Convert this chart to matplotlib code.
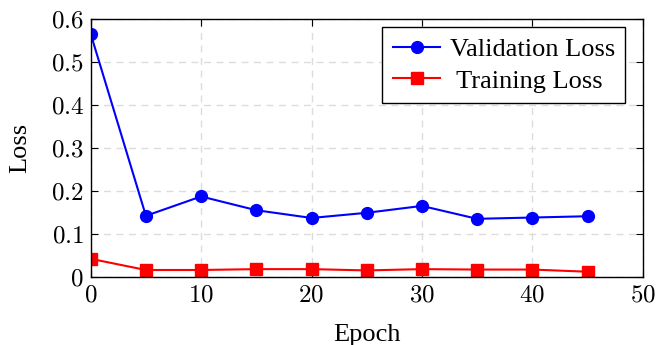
import matplotlib.pyplot as plt

# data
epochs = [0, 5, 10, 15, 20, 25, 30, 35, 40, 45]
val_loss = [0.566, 0.143, 0.188, 0.156, 0.138, 0.150, 0.166, 0.136, 0.139, 0.142]
train_loss = [0.043, 0.017, 0.017, 0.019, 0.019, 0.016, 0.019, 0.018, 0.018, 0.013]
xticks = [0, 10, 20, 30, 40, 50]
yticks = [0, 0.1, 0.2, 0.3, 0.4, 0.5, 0.6]

plt.rcParams['font.family'] = ['Liberation Serif', 'DejaVu Serif']
plt.rcParams['mathtext.fontset'] = 'cm'

fig = plt.figure(figsize=(6.57, 3.45), dpi=100)
ax = fig.add_axes([90.7 / 657, 1 - 277.3 / 345, (642.7 - 90.7) / 657, (277.3 - 19.3) / 345])

ax.plot(epochs, val_loss, color='blue', marker='o', markersize=8.5, linewidth=1.5,
        label='Validation Loss')
ax.plot(epochs, train_loss, color='red', marker='s', markersize=8.5, linewidth=1.5,
        label=' Training Loss')

ax.set_xlim(0, 50)
ax.set_ylim(0, 0.6)
ax.set_xticks(xticks)
ax.set_xticklabels([f'${t}$' for t in xticks])
ax.set_yticks(yticks)
ax.set_yticklabels(['$%g$' % t for t in yticks])
ax.grid(True, color='#dcdcdc', linestyle=(0, (5, 4)), linewidth=1)
ax.set_axisbelow(True)
ax.tick_params(direction='in', top=True, right=True, labelsize=18, length=5, pad=5)
for s in ax.spines.values():
    s.set_linewidth(1)

ax.set_xlabel('Epoch', fontsize=19, labelpad=13)
ax.set_ylabel('Loss', fontsize=19, labelpad=14)

leg = ax.legend(loc='upper right', fontsize=19, fancybox=False, edgecolor='black',
                framealpha=1, handlelength=1.8, borderpad=0.4, labelspacing=0.3,
                handletextpad=0.35, borderaxespad=0,
                bbox_to_anchor=(0.9685, 0.969))
leg.get_frame().set_linewidth(1)

fig.savefig('out.png', dpi=100)
